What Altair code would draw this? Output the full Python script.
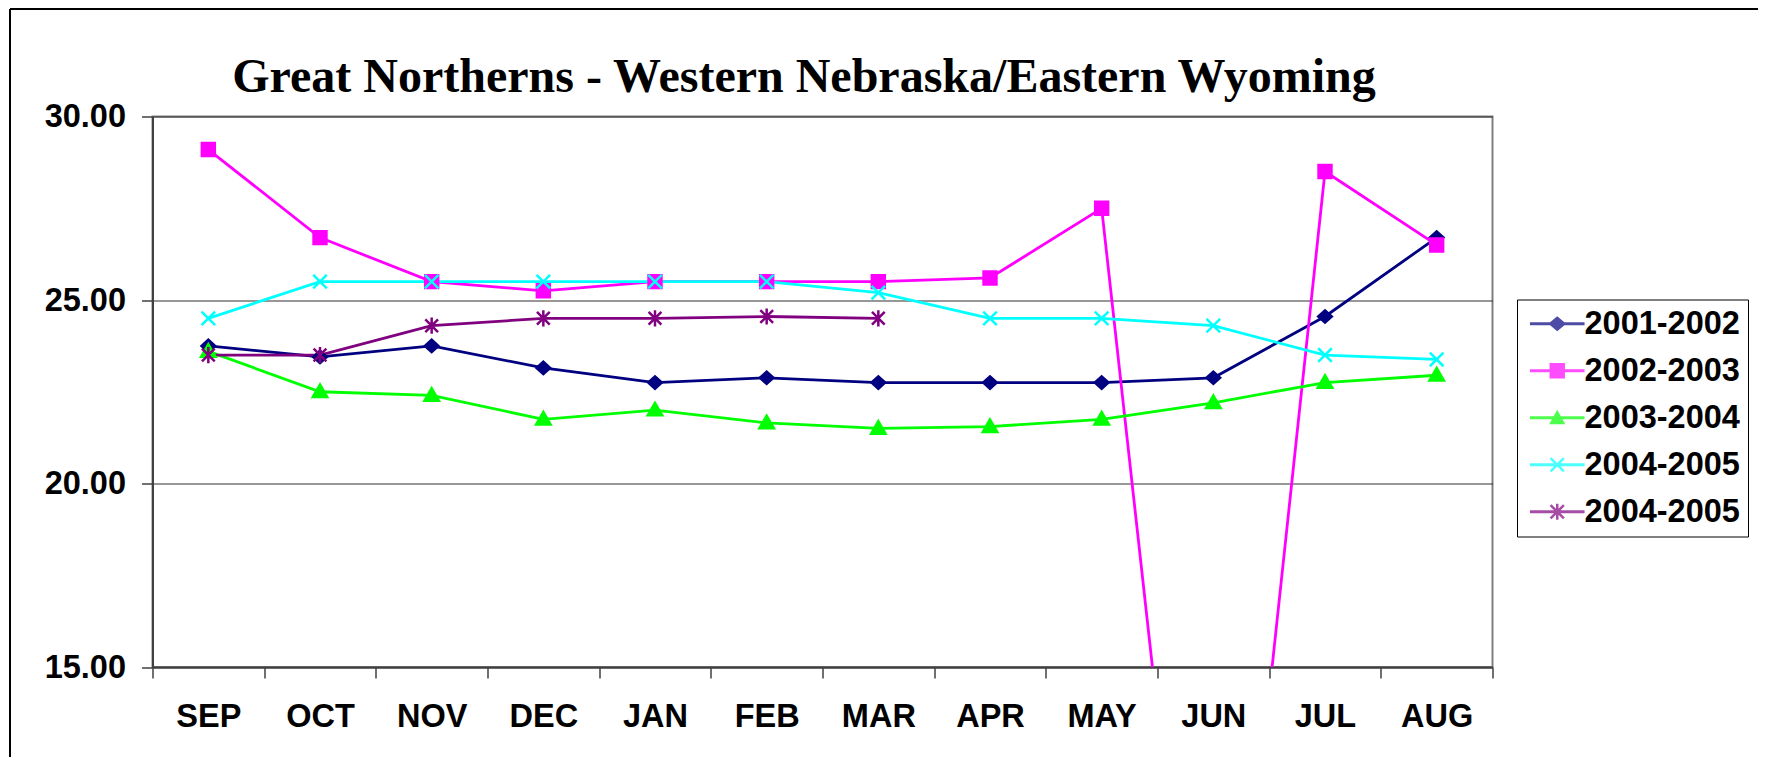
import altair as alt
import pandas as pd
import json

# ---------------- data ----------------
months = ["SEP", "OCT", "NOV", "DEC", "JAN", "FEB", "MAR", "APR", "MAY", "JUN", "JUL", "AUG"]
series_names = ["2001-2002", "2002-2003", "2003-2004", "2004-2005", "2004-2005"]
series_colors = ["#000080", "#FF00FF", "#00FF00", "#00FFFF", "#800080"]

v_2001_2002 = [23.75, 23.45, 23.75, 23.15, 22.75, 22.88, 22.75, 22.75, 22.75, 22.88, 24.55, 26.70]
v_2002_2003 = [29.10, 26.70, 25.50, 25.25, 25.50, 25.50, 25.50, 25.60, 27.50, 0.00, 28.50, 26.50]
v_2003_2004 = [23.60, 22.50, 22.40, 21.75, 22.00, 21.65, 21.50, 21.55, 21.75, 22.20, 22.75, 22.95]
v_2004_2005_a = [24.50, 25.50, 25.50, 25.50, 25.50, 25.50, 25.20, 24.50, 24.50, 24.30, 23.50, 23.38]
v_2004_2005_b = [23.50, 23.50, 24.30, 24.50, 24.50, 24.55, 24.50, None, None, None, None, None]

series_values = [v_2001_2002, v_2002_2003, v_2003_2004, v_2004_2005_a, v_2004_2005_b]
y_ticks = [15, 20, 25, 30]
title_text = "Great Northerns - Western Nebraska/Eastern Wyoming"

keys = [str(i) for i in range(len(series_names))]
rows = []
for key, vals in zip(keys, series_values):
    for m, v in zip(months, vals):
        if v is None:
            continue
        rows.append({"key": key, "month": m, "value": v})
df = pd.DataFrame(rows)

# ---------------- marker geometry ----------------
def f(v):
    return f"{v:.3f}".rstrip("0").rstrip(".")

def bar(x1, y1, x2, y2, t):
    dx, dy = x2 - x1, y2 - y1
    ln = (dx * dx + dy * dy) ** 0.5
    dx, dy = dx / ln, dy / ln
    nx, ny = -dy * t, dx * t
    pts = [(x1 + nx, y1 + ny), (x2 + nx, y2 + ny), (x2 - nx, y2 - ny), (x1 - nx, y1 - ny)]
    return "M" + "L".join(f"{f(a)},{f(b)}" for a, b in pts) + "Z"

# markers in the plot (unit = sqrt(size)/2 px)
plot_shapes = [
    "M0,-0.72L-0.8,0L0,0.72L0.8,0Z",                            # diamond
    "M-0.76,-0.76V0.76H0.76V-0.76Z",                            # square
    "M0,-0.85L-0.85,0.62L0.85,0.62Z",                           # triangle
    "M-0.8,-0.8L0.8,0.8M-0.8,0.8L0.8,-0.8",                     # x
    "M-0.75,-0.75L0.75,0.75M-0.75,0.75L0.75,-0.75M0,-0.95L0,0.95",  # asterisk
]
plot_fills = ["#000080", "#FF00FF", "#00FF00", "transparent", "transparent"]

# legend symbols: line segment + marker, all filled
seg = bar(-3.9, 0, 3.9, 0, 0.21)
xm = bar(-0.95, -0.95, 0.95, 0.95, 0.18) + bar(-0.95, 0.95, 0.95, -0.95, 0.18)
legend_shapes = [
    seg + "M0,-1.07L-1.28,0L0,1.07L1.28,0Z",
    seg + "M-1.1,-1.1V1.1H1.1V-1.1Z",
    seg + "M0,-1.15L-1.15,0.92L1.15,0.92Z",
    seg + xm,
    seg + xm + bar(0, -1.15, 0, 1.15, 0.18),
]

label_expr = json.dumps(series_names) + "[toNumber(datum.value)]"

FONT = "Liberation Sans"
FS = 32.5
AXIS_COL = "#404040"

x_enc = alt.X(
    "month:N", sort=months, bandPosition=0.5,
    scale=alt.Scale(type="band", paddingInner=0, paddingOuter=0),
    axis=alt.Axis(title=None, labelAngle=0, labelFont=FONT, labelFontSize=FS,
                  labelFontWeight="bold", labelColor="black", tickBand="extent",
                  tickSize=11, tickColor=AXIS_COL, tickWidth=1.5, domainColor=AXIS_COL,
                  domainWidth=2, labelPadding=22, grid=False),
)
y_enc = alt.Y(
    "value:Q",
    scale=alt.Scale(domain=[15, 30], nice=False, zero=False),
    axis=alt.Axis(title=None, values=y_ticks, format=".2f", labelFont=FONT, labelFontSize=FS,
                  labelFontWeight="bold", labelColor="black", tickSize=11, tickColor=AXIS_COL,
                  tickWidth=1.5, domainColor=AXIS_COL, domainWidth=2, labelPadding=16,
                  grid=True, gridColor="#303030", gridWidth=1.2),
)

base = alt.Chart(df)

lines = base.mark_line(strokeWidth=2.8, clip=True).encode(
    x=x_enc, y=y_enc,
    color=alt.Color("key:N", scale=alt.Scale(domain=keys, range=series_colors), legend=None),
    detail="key:N",
)

points = base.mark_point(size=289, strokeWidth=2.5, opacity=1, clip=True).encode(
    x=x_enc, y=y_enc,
    shape=alt.Shape("key:N", scale=alt.Scale(domain=keys, range=plot_shapes), legend=None),
    stroke=alt.Stroke("key:N", scale=alt.Scale(domain=keys, range=series_colors), legend=None),
    fill=alt.Fill("key:N", scale=alt.Scale(domain=keys, range=plot_fills), legend=None),
)

leg = alt.Legend(
    title=None, orient="none", legendX=1364.5, legendY=183,
    labelExpr=label_expr, labelFont=FONT, labelFontSize=FS, labelFontWeight="bold",
    labelColor="black", labelLimit=400, symbolSize=196, symbolOffset=16, labelOffset=11,
    symbolStrokeWidth=0, rowPadding=14, padding=8, strokeColor="black", fillColor="white",
)

legend_layer = base.transform_filter(alt.datum.value < 0).mark_point(
    size=196, filled=True, clip=True
).encode(
    x=x_enc, y=y_enc,
    color=alt.Color("key:N", scale=alt.Scale(domain=keys, range=series_colors), legend=leg),
    shape=alt.Shape("key:N", scale=alt.Scale(domain=keys, range=legend_shapes), legend=leg),
)

frame_data = alt.InlineData(values=[{"frame": 1}])
frame_left = alt.Chart(frame_data).mark_rule(color="black", strokeWidth=2).encode(
    x=alt.value(-142.5), y=alt.value(-107.5), y2=alt.value(660)
)
frame_top = alt.Chart(frame_data).mark_rule(color="black", strokeWidth=2).encode(
    x=alt.value(-142.5), x2=alt.value(1620), y=alt.value(-107.5)
)

chart = alt.layer(frame_left, frame_top, lines, points, legend_layer).resolve_scale(
    color="independent", shape="independent"
).properties(
    width=1340, height=550.5,
    padding={"left": 144.5, "top": 108.5, "right": 265, "bottom": 90},
    autosize=alt.AutoSizeParams(type="none"),
    title=alt.TitleParams(
        text=title_text, font="Liberation Serif", fontSize=48, fontWeight="bold",
        color="black", anchor="middle", frame="group", dx=-18.5, offset=-131.5,
        baseline="alphabetic",
    ),
    background="white",
).configure_view(stroke="#808080", strokeWidth=2)

chart.save("out.html", embed_options={"renderer": "svg", "actions": False})
